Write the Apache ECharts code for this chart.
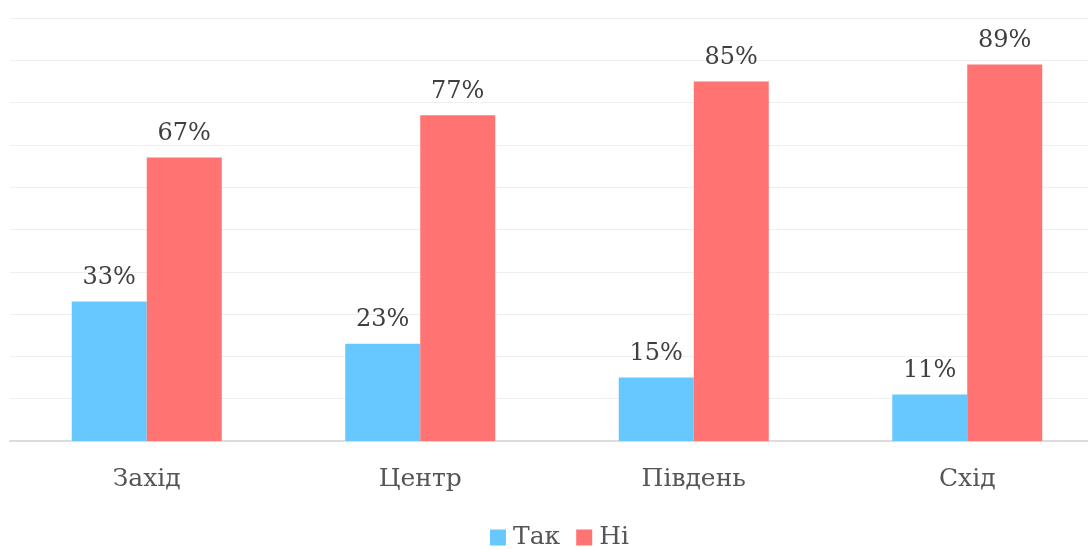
<!DOCTYPE html>
<html>
<head>
<meta charset="utf-8">
<script src="https://cdn.jsdelivr.net/npm/echarts@6/dist/echarts.min.js"></script>
<style>html,body{margin:0;padding:0;background:#fff}#c{width:1088px;height:550px}</style>
</head>
<body>
<div id="c"></div>
<script>
var categories = ['Захід', 'Центр', 'Південь', 'Схід'];
var seriesNames = ['Так', 'Ні'];
var yesValues = [33, 23, 15, 11];
var noValues = [67, 77, 85, 89];

var FONT = 'DejaVu Serif';
var chart = echarts.init(document.getElementById('c'));
var labelCfg = {
  show: true, position: 'top', distance: 12,
  formatter: '{c}%', color: '#404040', fontFamily: FONT, fontSize: 24
};
chart.setOption({
  animation: false,
  color: ['#66c8ff', '#ff7373'],
  grid: { left: 10, width: 1094, top: 18, height: 423, outerBoundsMode: 'none' },
  legend: {
    data: seriesNames, bottom: -5, left: 485,
    itemWidth: 16, itemHeight: 16, itemGap: 16, icon: 'rect',
    textStyle: { fontFamily: FONT, fontSize: 25, color: '#555', padding: [0, 0, 0, 2] }
  },
  xAxis: {
    type: 'category', data: categories,
    axisLine: { lineStyle: { color: '#dcdcdc', width: 2 } },
    axisTick: { show: false },
    axisLabel: { margin: 26, fontFamily: FONT, fontSize: 25, color: '#555' }
  },
  yAxis: {
    type: 'value', min: 0, max: 100, interval: 10,
    axisLabel: { show: false }, axisLine: { show: false }, axisTick: { show: false },
    splitLine: { lineStyle: { color: '#efefef', width: 1 } }
  },
  series: [
    { name: seriesNames[0], type: 'bar', data: yesValues, barWidth: 75, barGap: '0%', label: labelCfg },
    { name: seriesNames[1], type: 'bar', data: noValues, barWidth: 75, barGap: '0%', label: labelCfg }
  ]
});
</script>
</body>
</html>
